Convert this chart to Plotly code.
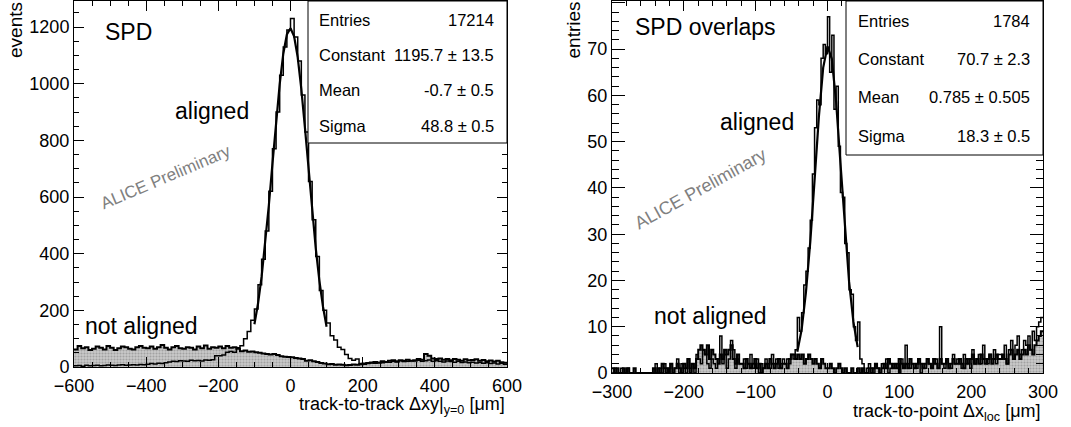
import numpy as np
import plotly.graph_objects as go

W, H = 1071, 427
FONT = "Liberation Sans, Arial, sans-serif"

# ---- left panel: track-to-track, 120 bins of 10 um from -600 to 600
left_lo, left_hi, left_nbins = -600, 600, 120
left_aligned = [
    4, 5, 3, 6, 4, 5, 6, 4, 5, 7, 6, 5, 7, 8, 6, 7, 8, 7, 9, 8,
    10, 12, 11, 13, 12, 15, 18, 20, 19, 22, 21, 20, 24, 22, 23, 21, 25, 24, 26, 40,
    40, 42, 52, 55, 52, 68, 75, 100, 125, 165, 205, 290, 380, 480, 620, 770, 900, 1030, 1130, 1190,
    1230, 1165, 1080, 960, 830, 655, 520, 390, 270, 200, 155, 110, 95, 70, 62, 44, 30, 24, 28, 12,
    10, 12, 14, 13, 16, 15, 18, 17, 20, 18, 22, 19, 20, 22, 21, 24, 20, 22, 25, 20,
    22, 20, 18, 21, 19, 17, 20, 16, 18, 15, 17, 14, 16, 13, 15, 12, 14, 11, 13, 10,
]
left_not_aligned = [
    62, 74, 66, 70, 60, 64, 72, 68, 62, 74, 68, 60, 66, 72, 70, 64, 62, 70, 74, 68,
    66, 72, 64, 70, 78, 68, 62, 70, 74, 66, 64, 70, 68, 62, 72, 66, 76, 64, 70, 68,
    72, 66, 74, 68, 70, 64, 56, 58, 54, 55, 52, 50, 48, 46, 44, 46, 42, 38, 36, 35,
    34, 32, 30, 28, 22, 24, 20, 18, 14, 12, 10, 11, 8, 9, 8, 6, 7, 9, 8, 10,
    12, 14, 16, 18, 15, 20, 18, 22, 24, 20, 24, 22, 26, 22, 24, 28, 26, 46, 40, 30,
    28, 30, 26, 28, 24, 28, 26, 22, 27, 24, 25, 27, 22, 25, 20, 23, 19, 22, 17, 15,
]
left_fit_x = [-100, -90, -80, -70, -60, -50, -40, -30, -20, -10, 0,
              10, 20, 30, 40, 50, 60, 70, 80, 90, 100]
left_fit_y = [151, 224, 319, 436, 571, 718, 864, 998, 1106, 1174, 1196,
              1167, 1093, 981, 845, 697, 552, 419, 305, 213, 142]
left_stats = [("Entries", "17214"), ("Constant", "1195.7 ± 13.5"),
              ("Mean", "-0.7 ± 0.5"), ("Sigma", "48.8 ± 0.5")]

# ---- right panel: track-to-point, 200 bins of 3 um from -300 to 300
right_lo, right_hi, right_nbins = -300, 300, 200
right_aligned = [
    0, 1, 0, 0, 1, 0, 0, 1, 0, 0, 0, 0, 0, 0, 0, 0, 0, 0, 0, 0,
    2, 0, 1, 0, 2, 1, 0, 2, 0, 1, 3, 0, 2, 1, 0, 3, 1, 2, 0, 4,
    3, 2, 5, 4, 2, 1, 3, 2, 1, 3, 8, 2, 4, 1, 3, 7, 5, 1, 3, 2,
    2, 3, 1, 2, 4, 1, 2, 3, 0, 2, 1, 3, 2, 1, 4, 2, 3, 1, 2, 3,
    2, 3, 2, 4, 3, 5, 12, 9, 13, 19, 22, 27, 33, 43, 53, 59, 58, 68, 71, 69,
    77, 65, 73, 57, 62, 49, 39, 38, 28, 26, 18, 17, 10, 7, 11, 3, 2, 0, 1, 2,
    1, 0, 2, 1, 0, 2, 1, 3, 0, 1, 2, 1, 2, 0, 3, 1, 6, 2, 1, 2,
    2, 1, 3, 0, 2, 1, 3, 2, 1, 2, 3, 1, 10, 2, 1, 3, 2, 1, 4, 2,
    3, 2, 1, 4, 2, 3, 1, 5, 2, 3, 4, 2, 6, 3, 2, 4, 3, 5, 2, 4,
    4, 3, 6, 2, 5, 7, 3, 6, 8, 4, 5, 7, 6, 8, 5, 9, 7, 10, 11, 12,
]
right_not_aligned = [
    1, 0, 1, 0, 0, 1, 0, 1, 0, 0, 1, 0, 0, 0, 0, 0, 0, 0, 0, 1,
    0, 1, 0, 2, 1, 0, 1, 2, 0, 1, 2, 1, 0, 2, 1, 3, 0, 2, 1, 3,
    5, 6, 5, 4, 6, 3, 5, 4, 3, 2, 4, 3, 5, 4, 5, 6, 3, 2, 4, 2,
    2, 1, 3, 2, 1, 2, 3, 1, 2, 0, 1, 2, 1, 3, 2, 1, 2, 3, 1, 2,
    2, 1, 3, 4, 4, 3, 4, 3, 4, 2, 3, 4, 3, 2, 3, 2, 1, 3, 2, 1,
    1, 2, 1, 0, 1, 2, 1, 0, 1, 0, 0, 1, 0, 0, 1, 0, 1, 0, 0, 1,
    0, 1, 2, 1, 0, 1, 2, 1, 3, 2, 1, 2, 1, 3, 2, 1, 2, 1, 3, 2,
    1, 2, 3, 2, 1, 2, 3, 2, 1, 3, 2, 1, 3, 2, 2, 3, 1, 2, 3, 2,
    2, 3, 2, 1, 3, 2, 3, 4, 2, 3, 2, 4, 3, 2, 3, 4, 2, 3, 4, 3,
    3, 4, 3, 2, 4, 5, 3, 4, 5, 3, 4, 5, 4, 6, 5, 4, 6, 7, 8, 9,
]
right_fit_x = [-42, -36, -30, -24, -18, -12, -6, 0, 6, 12, 18, 24, 30, 36, 42]
right_fit_y = [4.6, 9.4, 17.5, 28.3, 41.7, 55.4, 66.0, 70.6, 67.9, 58.6, 45.4, 31.6, 19.8, 11.1, 5.6]
right_stats = [("Entries", "1784"), ("Constant", "70.7 ± 2.3"),
               ("Mean", "0.785 ± 0.505"), ("Sigma", "18.3 ± 0.5")]


def px(x):
    return x / W


def py(y):
    return 1 - y / H


def steps(lo, hi, n, vals):
    edges = np.linspace(lo, hi, n + 1)
    return list(edges), list(vals) + [vals[-1]]


fig = go.Figure()

# left panel
x, y = steps(left_lo, left_hi, left_nbins, left_not_aligned)
fig.add_trace(go.Scatter(x=x, y=y, mode="lines", line=dict(shape="hv", color="black", width=2),
                         fill="tozeroy", fillcolor="#bdbdbd",
                         fillpattern=dict(shape=".", bgcolor="#cacaca", fgcolor="#7a7a7a", size=3, solidity=0.4),
                         xaxis="x", yaxis="y"))
x, y = steps(left_lo, left_hi, left_nbins, left_aligned)
fig.add_trace(go.Scatter(x=x, y=y, mode="lines", line=dict(shape="hv", color="black", width=1.5),
                         xaxis="x", yaxis="y"))
fig.add_trace(go.Scatter(x=left_fit_x, y=left_fit_y, mode="lines", line=dict(color="black", width=2.2),
                         xaxis="x", yaxis="y"))

# right panel
x, y = steps(right_lo, right_hi, right_nbins, right_not_aligned)
fig.add_trace(go.Scatter(x=x, y=y, mode="lines", line=dict(shape="hv", color="black", width=2),
                         fill="tozeroy", fillcolor="#bdbdbd",
                         fillpattern=dict(shape=".", bgcolor="#cacaca", fgcolor="#7a7a7a", size=3, solidity=0.4),
                         xaxis="x2", yaxis="y2"))
x, y = steps(right_lo, right_hi, right_nbins, right_aligned)
fig.add_trace(go.Scatter(x=x, y=y, mode="lines", line=dict(shape="hv", color="black", width=1.5),
                         xaxis="x2", yaxis="y2"))
fig.add_trace(go.Scatter(x=right_fit_x, y=right_fit_y, mode="lines", line=dict(color="black", width=2.2),
                         xaxis="x2", yaxis="y2"))

tickfont = dict(family=FONT, size=18, color="black")


def axis(domain, rng, dtick, minor, ticklen, minorlen, anchor, standoff):
    return dict(domain=domain, range=rng, dtick=dtick, tick0=0, anchor=anchor, automargin=False,
                showline=True, linecolor="black", linewidth=1, mirror="allticks",
                ticks="inside", ticklen=ticklen, tickcolor="black", tickwidth=1,
                minor=dict(dtick=minor, ticks="inside", ticklen=minorlen, tickcolor="black", tickwidth=1),
                showgrid=False, zeroline=False, tickfont=tickfont, ticklabelstandoff=standoff)


fig.update_layout(
    width=W, height=H, margin=dict(l=0, r=0, t=0, b=0, autoexpand=False),
    paper_bgcolor="white", plot_bgcolor="white", showlegend=False,
    xaxis=axis([px(74), px(507)], [-600, 600], 200, 50, 10, 5, "y", 2),
    yaxis=axis([py(367), py(1)], [0, 1292], 200, 50, 10, 5, "x", 0),
    xaxis2=axis([px(612), px(1043)], [-300, 300], 100, 20, 10, 5, "y2", 2),
    yaxis2=axis([py(373), py(1)], [0, 80.4], 10, 2, 13, 7, "x2", 0),
)

annotations = []


def text(x, y, s, size=23, color="black", xanchor="center", angle=0, yanchor="middle"):
    annotations.append(dict(x=px(x), y=py(y), xref="paper", yref="paper", text=s, showarrow=False,
                            xanchor=xanchor, yanchor=yanchor, textangle=angle,
                            font=dict(family=FONT, size=size, color=color)))


# axis titles
text(15, 0, "events", size=19, angle=-90, yanchor="top")
text(573, 0, "entries", size=19, angle=-90, yanchor="top")
text(507, 405, "track-to-track Δxy|<sub>y=0</sub> [μm]", size=18, xanchor="right")
text(1043, 412, "track-to-point Δx<sub>loc</sub> [μm]", size=18, xanchor="right")

# labels
text(103, 32, "SPD", xanchor="left")
text(212, 111, "aligned")
text(141, 326, "not aligned")
text(633, 27, "SPD overlaps", xanchor="left")
text(757, 122, "aligned")
text(710, 316, "not aligned")
text(165, 177, "ALICE Preliminary", size=17, color="#808080", angle=-23)
text(700, 189, "ALICE Preliminary", size=18, color="#808080", angle=-29)

# stats boxes
shapes = []
for (x0, x1, y1) in [(308, 507, 143), (846, 1043, 155)]:
    shapes.append(dict(type="rect", xref="paper", yref="paper", x0=px(x0), x1=px(x1),
                       y0=py(y1), y1=py(1), line=dict(color="black", width=1), fillcolor="white"))
for stats, (lx, rx, rows) in [(left_stats, (317, 496, [20, 55, 90, 126])),
                              (right_stats, (856, 1032, [21, 59, 97, 136]))]:
    for (name, val), ry in zip(stats, rows):
        text(lx, ry, name, size=16.5, xanchor="left")
        text(rx, ry, val, size=16.5, xanchor="right")

fig.update_layout(annotations=annotations, shapes=shapes)
fig.write_html("out.html", config={"displayModeBar": False},
               post_script="document.body.style.margin='0';document.body.style.overflow='hidden';")
